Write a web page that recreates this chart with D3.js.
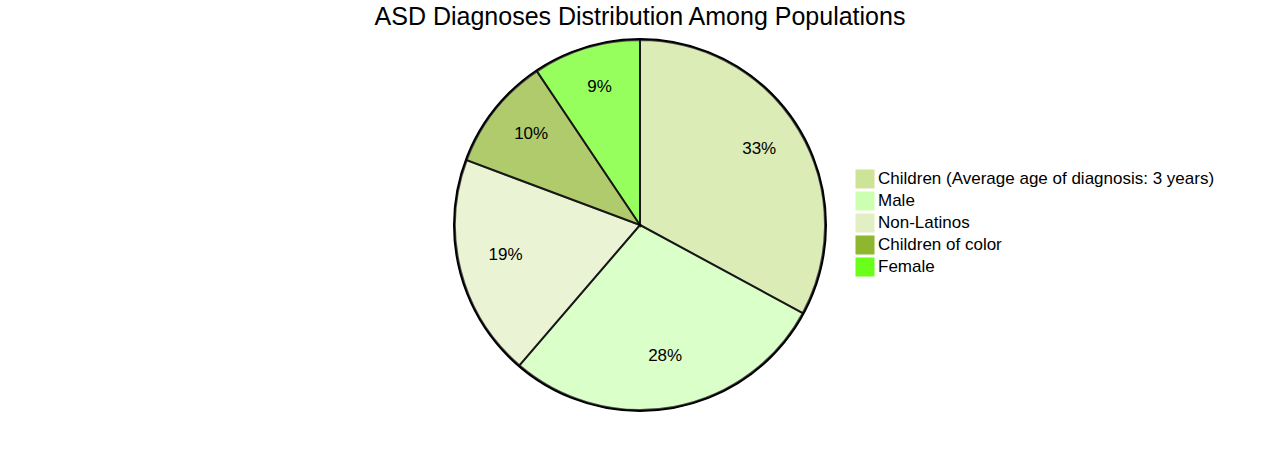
<!DOCTYPE html>
<html>
<head>
<meta charset="utf-8">
<script src="https://cdn.jsdelivr.net/npm/d3@7"></script>
<style>
	body { margin: 0; background: #fff; }
	svg text { font-family: "Liberation Sans", Arial, sans-serif; fill: #000; }
</style>
</head>
<body>
<div id="chart"></div>
<script>

var labels= ["Children (Average age of diagnosis: 3 years)", "Male", "Non-Latinos", "Children of color", "Female"];
var values= [32.9, 28.4, 19.4, 9.9, 9.4];
var colors= ["#cde498", "#cdffb2", "#e2efc2", "#8eb62f", "#6aff1a"];

function draw_pie() {

	var width= 1280, height= 450;
	var radius= 185;
	var cx= 640, cy= 225;

	var svg= d3.select("#chart")
		.append("svg")
		.attr("width", width)
		.attr("height", height);

	var data= labels.map(function (l, i) { return {label: l, value: values[i], color: colors[i]}; });
	var sum= d3.sum(values);

	var pie= d3.pie().value(function (d) { return d.value; }).sort(null);
	var arc= d3.arc().innerRadius(0).outerRadius(radius);
	var label_arc= d3.arc().innerRadius(radius* 0.75).outerRadius(radius* 0.75);

	var g= svg.append("g")
		.attr("transform", "translate(" + cx + "," + cy + ")");

	g.append("circle")
		.attr("r", radius + 1)
		.attr("fill", "none")
		.attr("stroke", "#000")
		.attr("stroke-width", 2);

	var arcs= pie(data);

	g.selectAll("path.slice")
		.data(arcs)
		.enter()
		.append("path")
			.attr("class", "slice")
			.attr("d", arc)
			.attr("fill", function (d) { return d.data.color; })
			.attr("opacity", 0.7)
			.attr("stroke", "#000")
			.attr("stroke-width", 2);

	g.selectAll("text.pct")
		.data(arcs)
		.enter()
		.append("text")
			.attr("class", "pct")
			.attr("transform", function (d) { return "translate(" + label_arc.centroid(d) + ")"; })
			.style("text-anchor", "middle")
			.style("font-size", "17px")
			.text(function (d) { return (d.data.value/ sum* 100).toFixed(0) + "%"; });

	svg.append("text")
		.attr("x", cx)
		.attr("y", 25)
		.style("text-anchor", "middle")
		.style("font-size", "25px")
		.text("ASD Diagnoses Distribution Among Populations");

	var offset= 22* data.length/ 2;
	var legend= g.selectAll("g.legend")
		.data(data)
		.enter()
		.append("g")
			.attr("class", "legend")
			.attr("transform", function (d, i) { return "translate(216," + (i* 22- offset) + ")"; });

	legend.append("rect")
		.attr("width", 18)
		.attr("height", 18)
		.attr("fill", function (d) { return d.color; })
		.attr("stroke", function (d) { return d.color; });

	legend.append("text")
		.attr("x", 22)
		.attr("y", 14)
		.style("font-size", "17px")
		.text(function (d) { return d.label; });
};

draw_pie();
</script>
</body>
</html>
